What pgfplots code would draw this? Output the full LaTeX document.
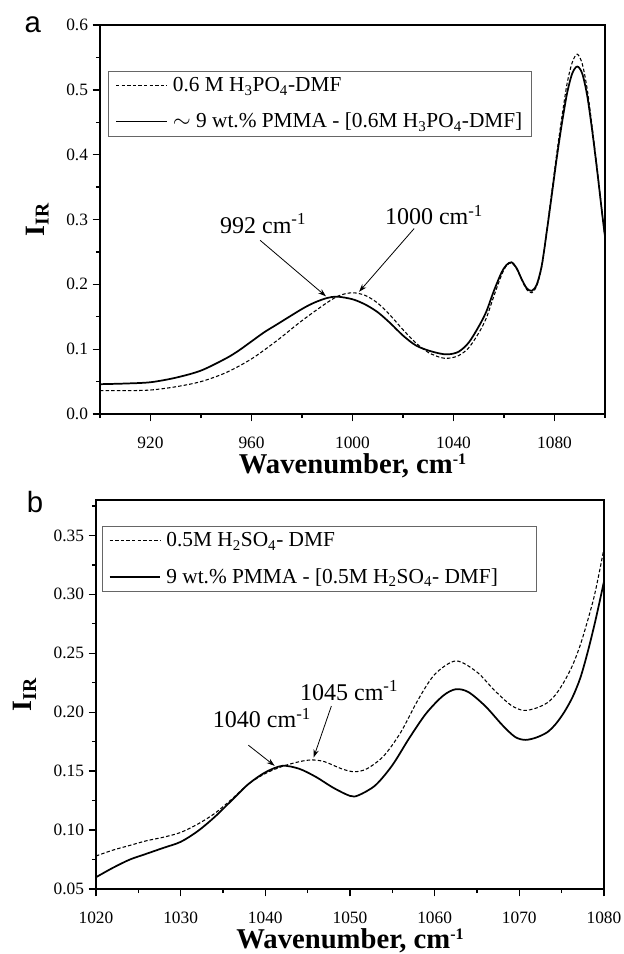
\documentclass[border=0pt]{standalone}
\usepackage{fontspec}
\setmainfont{Liberation Serif}
\newfontfamily\arialfont{Liberation Sans}
\usepackage{pgfplots}
\pgfplotsset{compat=1.18}
\usetikzlibrary{arrows.meta}

% 1 px of the reference = 0.75pt
\newcommand{\invcm}{cm\raisebox{0.62ex}{\fontsize{12}{12}\selectfont -1}}
\tikzset{
  ann/.style={font=\fontsize{18}{20}\selectfont, anchor=base},
  arr/.style={-{Stealth[length=6pt,width=4pt]}, line width=0.6pt},
}
\pgfplotsset{
  irstyle/.style={
    scale only axis,
    clip mode=individual,
    axis line style={line width=1.1pt},
    tick align=outside,
    xtick pos=bottom, ytick pos=left,
    major tick length=5.5pt, minor tick length=3pt,
    every tick/.style={black, line width=1pt},
    tick label style={font=\fontsize{13}{15}\selectfont},
    /pgf/number format/assume math mode=true,
    /pgf/number format/1000 sep={},
    xticklabel style={anchor=base, yshift=-20pt, inner sep=0pt},
    xlabel style={font=\fontsize{21.5}{24}\selectfont\bfseries, at={(axis description cs:0.5,0)}, anchor=base, yshift=-44.3pt, inner sep=0pt},
    ylabel style={font=\fontsize{21}{23}\selectfont\bfseries, anchor=center},
    legend cell align=left,
    legend style={draw=black!60, line width=0.6pt, anchor=north west,
      font=\fontsize{16}{19}\selectfont, row sep=10.5pt, column sep=2pt,
      inner xsep=5pt, inner ysep=3pt},
    legend image code/.code={\draw[#1] (0pt,0pt) -- (38pt,0pt);},
  },
  dashser/.style={black, line width=0.8pt, dash pattern=on 2.6pt off 1.6pt, smooth},
  solidser/.style={black, line width=1.3pt, smooth},
}

\begin{document}
\begin{tikzpicture}
\path[use as bounding box] (0pt,0pt) rectangle (468pt,-715.5pt);

% ---------- panel a ----------
\begin{axis}[irstyle,
  at={(75pt,-310.5pt)}, anchor=south west,
  width=378.75pt, height=291.75pt,
  xmin=900, xmax=1100, ymin=0, ymax=0.6,
  xtick={920,960,1000,1040,1080}, minor xtick={900,940,980,1020,1060,1100},
  ytick={0,0.1,0.2,0.3,0.4,0.5,0.6}, minor ytick={0.05,0.15,0.25,0.35,0.45,0.55},
  yticklabel style={/pgf/number format/.cd, fixed, fixed zerofill, precision=1},
  xlabel={Wavenumber, \invcm},
  ylabel={I\textsubscript{IR}},
  ylabel style={at={(axis description cs:-0.124,0.5)}},
  legend style={at={(axis description cs:0.016,0.883)}},
]
\addplot[dashser] coordinates {
(900,0.036)(910,0.036)(920,0.037)(930,0.042)(940,0.050)(950,0.064)
(960,0.085)(970,0.113)(980,0.144)(990,0.172)(995,0.183)(1000,0.187)
(1005,0.183)(1010,0.171)(1015,0.152)(1020,0.130)(1025,0.110)(1030,0.095)
(1035,0.087)(1038,0.086)(1042,0.090)(1046,0.102)(1050,0.125)(1053,0.148)
(1056,0.182)(1059,0.214)(1061,0.229)(1063,0.233)(1065,0.224)(1067,0.207)
(1069,0.192)(1071,0.187)(1073,0.198)(1075,0.228)(1077,0.285)(1079,0.345)
(1081,0.405)(1083,0.460)(1085,0.510)(1087,0.542)(1089,0.555)(1091,0.540)
(1093,0.500)(1095,0.440)(1097,0.375)(1099,0.305)(1100,0.272)
};
\addplot[solidser] coordinates {
(900,0.046)(910,0.047)(920,0.049)(930,0.056)(940,0.067)(950,0.086)
(955,0.098)(960,0.112)(965,0.126)(970,0.138)(980,0.162)(985,0.172)
(990,0.179)(994,0.181)(1000,0.177)(1005,0.169)(1010,0.157)(1015,0.140)
(1020,0.121)(1025,0.106)(1030,0.098)(1035,0.093)(1038,0.092)(1042,0.096)
(1046,0.110)(1050,0.135)(1053,0.158)(1056,0.190)(1059,0.218)(1061,0.230)
(1063,0.234)(1065,0.225)(1067,0.208)(1069,0.194)(1071,0.190)(1073,0.200)
(1075,0.230)(1077,0.283)(1079,0.340)(1081,0.398)(1083,0.450)(1085,0.495)
(1087,0.525)(1089,0.536)(1091,0.525)(1093,0.490)(1095,0.435)(1097,0.372)
(1099,0.305)(1100,0.274)
};
\legend{0.6 M H\textsubscript{3}PO\textsubscript{4}-DMF,
        $\sim$ 9 wt.\% PMMA - [0.6M H\textsubscript{3}PO\textsubscript{4}-DMF]}
\node[ann] at (axis cs:964.6,0.279) {992 cm\textsuperscript{-1}};
\node[ann] at (axis cs:1032.3,0.292) {1000 cm\textsuperscript{-1}};
\draw[arr] (axis cs:963.4,0.268) -- (axis cs:989.5,0.1815);
\draw[arr] (axis cs:1024.4,0.286) -- (axis cs:1002.6,0.1885);
\node[font=\fontsize{22}{24}\selectfont\arialfont, anchor=center] at (rel axis cs:-0.133,1.0) {a};
\end{axis}

% ---------- panel b ----------
\begin{axis}[irstyle,
  at={(72pt,-666.75pt)}, anchor=south west,
  width=381pt, height=291.75pt,
  xmin=1020, xmax=1080, ymin=0.05, ymax=0.38,
  xtick={1020,1030,1040,1050,1060,1070,1080},
  minor xtick={1025,1035,1045,1055,1065,1075},
  ytick={0.05,0.10,0.15,0.20,0.25,0.30,0.35},
  minor ytick={0.075,0.125,0.175,0.225,0.275,0.325,0.375},
  yticklabel style={/pgf/number format/.cd, fixed, fixed zerofill, precision=2},
  xlabel={Wavenumber, \invcm},
  ylabel={I\textsubscript{IR}},
  ylabel style={at={(axis description cs:-0.14,0.5)}},
  legend style={at={(axis description cs:0.011,0.934)}},
]
\addplot[dashser] coordinates {
(1020,0.078)(1022,0.083)(1024,0.087)(1026,0.091)(1028,0.094)(1030,0.098)
(1032,0.105)(1034,0.114)(1036,0.126)(1038,0.139)(1040,0.148)(1042,0.154)
(1044,0.158)(1045.5,0.1595)(1047,0.158)(1049,0.152)(1050.5,0.1495)(1052,0.152)
(1054,0.163)(1056,0.183)(1058,0.210)(1060,0.232)(1062.5,0.2435)(1065,0.234)
(1067,0.219)(1069,0.206)(1070.5,0.2015)(1072,0.2035)(1073.3,0.208)
(1074.3,0.215)(1075.3,0.226)(1076.3,0.240)(1077.2,0.257)(1078,0.276)
(1078.8,0.297)(1079.4,0.317)(1080,0.339)
};
\addplot[solidser] coordinates {
(1020,0.060)(1022,0.068)(1024,0.075)(1026,0.080)(1028,0.085)(1030,0.090)
(1032,0.099)(1034,0.111)(1036,0.125)(1038,0.139)(1040,0.149)(1042,0.1545)
(1044,0.152)(1046,0.145)(1048,0.136)(1050,0.129)(1051,0.1295)(1053,0.138)
(1055,0.155)(1057,0.178)(1059,0.199)(1061,0.214)(1062.5,0.2195)(1064,0.217)
(1066,0.205)(1068,0.189)(1069.5,0.179)(1070.7,0.1765)(1072,0.1785)
(1073.3,0.183)(1074.3,0.190)(1075.3,0.200)(1076.3,0.213)(1077.2,0.229)
(1078,0.249)(1078.8,0.272)(1079.4,0.291)(1080,0.311)
};
\legend{0.5M H\textsubscript{2}SO\textsubscript{4}- DMF,
        9 wt.\% PMMA - [0.5M H\textsubscript{2}SO\textsubscript{4}- DMF]\rule{22pt}{0pt}}
\node[ann] at (axis cs:1039.6,0.1866) {1040 cm\textsuperscript{-1}};
\node[ann] at (axis cs:1049.9,0.2103) {1045 cm\textsuperscript{-1}};
\draw[arr] (axis cs:1038.0,0.172) -- (axis cs:1041.1,0.1545);
\draw[arr] (axis cs:1047.8,0.2052) -- (axis cs:1045.7,0.1615);
\node[font=\fontsize{22}{24}\selectfont\arialfont, anchor=center] at (rel axis cs:-0.12,0.995) {b};
\end{axis}
\end{tikzpicture}
\end{document}
